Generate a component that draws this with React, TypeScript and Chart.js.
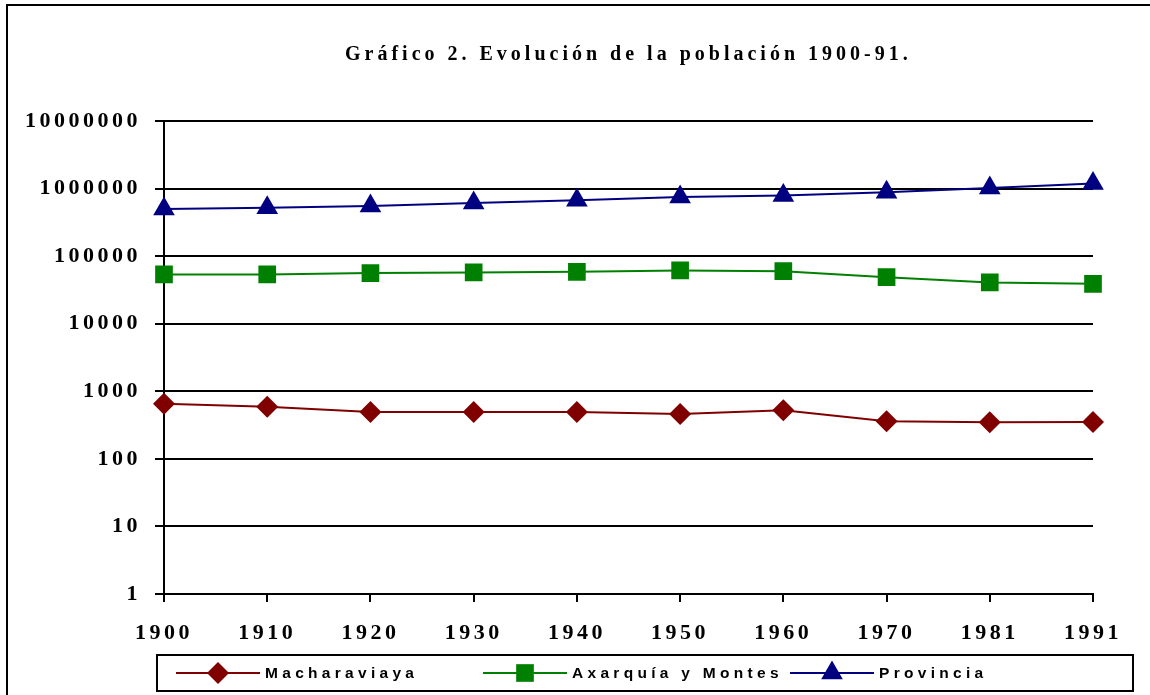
import React, { useEffect, useRef } from 'react';
import { Chart, registerables } from 'chart.js';

Chart.register(...registerables);

const title = 'Gráfico 2. Evolución de la población 1900-91.';
const years = ['1900', '1910', '1920', '1930', '1940', '1950', '1960', '1970', '1981', '1991'];
const macharaviaya = [652, 589, 494, 494, 494, 461, 525, 360, 347, 351];
const axarquia = [53600, 53600, 56100, 57400, 58600, 61400, 60000, 48900, 40800, 38900];
const provincia = [500000, 520000, 550000, 613000, 672000, 753000, 787000, 881000, 1023000, 1186000];
const yTicks = [1, 10, 100, 1000, 10000, 100000, 1000000, 10000000];

const W = 1150;
const H = 695;

function drawMarker(ctx: CanvasRenderingContext2D, style: string, x: number, y: number, r: number) {
  ctx.beginPath();
  if (style === 'rectRot') {
    ctx.moveTo(x, y - r);
    ctx.lineTo(x + r, y);
    ctx.lineTo(x, y + r);
    ctx.lineTo(x - r, y);
  } else if (style === 'rect') {
    const s = r * Math.SQRT1_2;
    ctx.rect(x - s, y - s, 2 * s, 2 * s);
  } else {
    const hw = r * Math.sin(Math.PI / 3);
    ctx.moveTo(x, y - r);
    ctx.lineTo(x + hw, y + r / 2);
    ctx.lineTo(x - hw, y + r / 2);
  }
  ctx.closePath();
  ctx.fill();
}

export default function App() {
  const ref = useRef<HTMLCanvasElement>(null);

  useEffect(() => {
    if (!ref.current) return;

    const framePlugin = {
      id: 'frameTitle',
      beforeDraw(chart: any) {
        const ctx = chart.ctx as CanvasRenderingContext2D;
        ctx.save();
        ctx.fillStyle = '#ffffff';
        ctx.fillRect(0, 0, W, H);
        ctx.fillStyle = '#000000';
        ctx.fillRect(6, 4, 2, H - 4);
        ctx.fillRect(6, 4, W - 6, 2);
        ctx.font = 'bold 20px "Liberation Serif"';
        (ctx as any).letterSpacing = '4px';
        ctx.textAlign = 'left';
        ctx.textBaseline = 'middle';
        ctx.fillText(title, 345, 55);
        ctx.restore();
        (ctx as any).letterSpacing = '3.5px';
      },
      afterDraw(chart: any) {
        const ctx = chart.ctx as CanvasRenderingContext2D;
        ctx.save();
        (ctx as any).letterSpacing = '4.3px';
        ctx.strokeStyle = '#000';
        ctx.lineWidth = 2;
        ctx.strokeRect(157, 655, 976, 36);
        const starts = [176, 483, 790];
        const cy = 673;
        chart.data.datasets.forEach((ds: any, i: number) => {
          const sx = starts[i];
          ctx.strokeStyle = ds.borderColor;
          ctx.lineWidth = 2;
          ctx.beginPath();
          ctx.moveTo(sx, cy);
          ctx.lineTo(sx + 84, cy);
          ctx.stroke();
          ctx.fillStyle = ds.backgroundColor;
          drawMarker(ctx, ds.pointStyle, sx + 42, cy, ds.pointRadius);
          ctx.fillStyle = '#000';
          ctx.font = 'bold 15.5px "Liberation Sans"';
          ctx.textAlign = 'left';
          ctx.textBaseline = 'middle';
          ctx.fillText(ds.label, sx + 89, cy + 1);
        });
        ctx.restore();
      },
    };

    const tickFont = { family: '"Liberation Serif"', size: 22, weight: 'bold' as const };

    const chart = new Chart(ref.current, {
      type: 'line',
      data: {
        labels: years,
        datasets: [
          {
            label: 'Macharaviaya',
            data: macharaviaya,
            borderColor: '#800000',
            backgroundColor: '#800000',
            borderWidth: 2,
            pointStyle: 'rectRot',
            pointRadius: 11,
            pointBorderWidth: 0,
            tension: 0,
          },
          {
            label: 'Axarquía y Montes',
            data: axarquia,
            borderColor: '#008000',
            backgroundColor: '#008000',
            borderWidth: 2,
            pointStyle: 'rect',
            pointRadius: 12.5,
            pointBorderWidth: 0,
            tension: 0,
          },
          {
            label: 'Provincia',
            data: provincia,
            borderColor: '#000080',
            backgroundColor: '#000080',
            borderWidth: 2,
            pointStyle: 'triangle',
            pointRadius: 12.5,
            pointBorderWidth: 0,
            tension: 0,
          },
        ],
      },
      options: {
        responsive: false,
        animation: false,
        layout: { padding: { left: 0, right: 57, top: 121, bottom: 51 } },
        plugins: {
          legend: { display: false },
          title: { display: false },
          tooltip: { enabled: false },
        },
        scales: {
          x: {
            type: 'category',
            offset: false,
            afterFit: (s: any) => {
              s.height = 50;
            },
            ticks: { font: tickFont, color: '#000', padding: 18, maxRotation: 0, autoSkip: false },
            grid: { drawOnChartArea: false, color: '#000', lineWidth: 2, tickLength: 8 },
            border: { color: '#000', width: 2 },
          },
          y: {
            type: 'logarithmic',
            min: 1,
            max: 10000000,
            afterBuildTicks: (s: any) => {
              s.ticks = yTicks.map((v) => ({ value: v }));
            },
            afterFit: (s: any) => {
              s.width = 164;
            },
            ticks: {
              font: tickFont,
              color: '#000',
              padding: 14,
              autoSkip: false,
              callback: (v: any) => String(v),
            },
            grid: { color: '#000', lineWidth: 2, tickLength: 9 },
            border: { color: '#000', width: 2 },
          },
        },
      } as any,
      plugins: [framePlugin],
    });

    return () => chart.destroy();
  }, []);

  return (
    <div style={{ position: 'fixed', left: 0, top: 0, width: W, height: H, background: '#fff' }}>
      <canvas ref={ref} width={W} height={H} style={{ display: 'block' }} />
    </div>
  );
}
